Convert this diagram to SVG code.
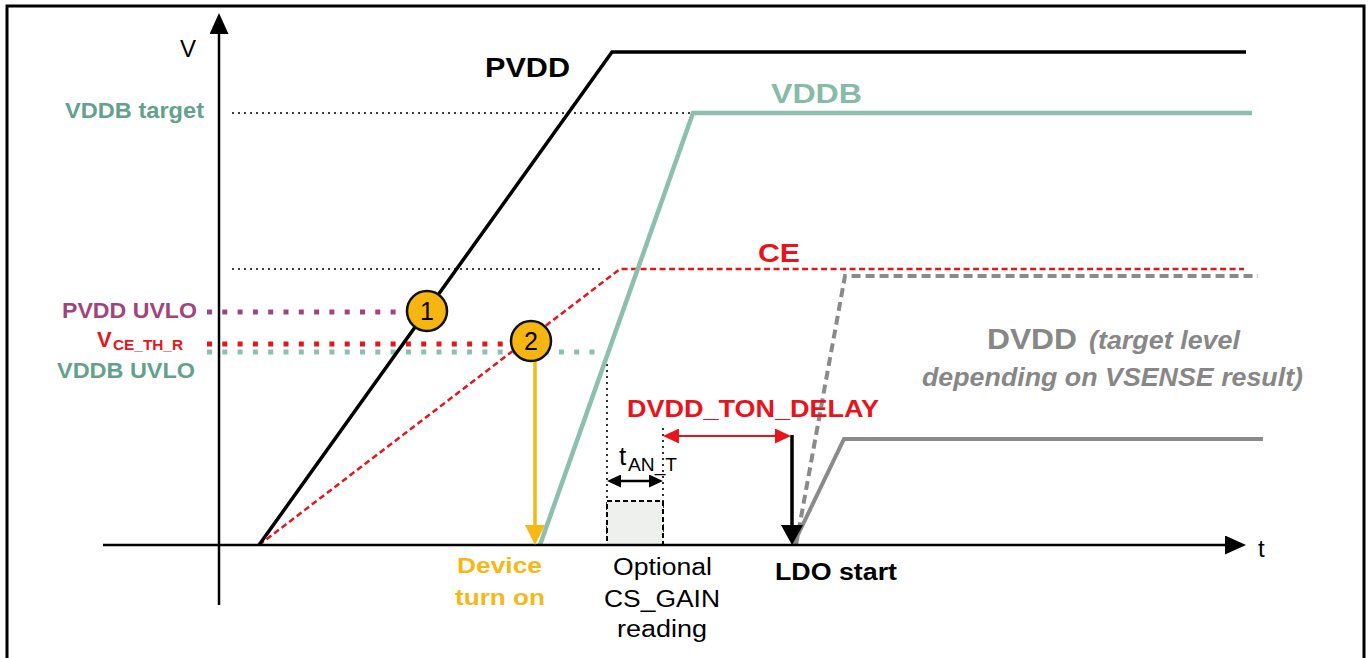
<svg xmlns="http://www.w3.org/2000/svg" width="1370" height="658" viewBox="0 0 1370 658">
<style>
text{font-family:"Liberation Sans",Arial,sans-serif;}
.b{font-weight:bold;}
.bi{font-weight:bold;font-style:italic;}
.blk{fill:#000;}
.red{fill:#E8141B;}
.teal{fill:#64A18D;}
.gray{fill:#878787;}
.gold{fill:#F5B815;}
.dotK{stroke:#000;stroke-width:1.6;stroke-dasharray:2 4;fill:none;}
.sq{stroke-width:5;stroke-dasharray:5 10.3;fill:none;}
</style>
<defs>
<marker id="ahAxis" markerUnits="userSpaceOnUse" markerWidth="21" markerHeight="19" viewBox="0 0 21 19" refX="0" refY="9.5" orient="auto"><path d="M0,0 L21,9.5 L0,19 z" fill="#000"/></marker>
<marker id="ahRed" markerUnits="userSpaceOnUse" markerWidth="16" markerHeight="15" viewBox="0 0 16 15" refX="0" refY="7.5" orient="auto-start-reverse"><path d="M0,0 L16,7.5 L0,15 z" fill="#E8141B"/></marker>
<marker id="ahSmall" markerUnits="userSpaceOnUse" markerWidth="14" markerHeight="13" viewBox="0 0 14 13" refX="0" refY="6.5" orient="auto-start-reverse"><path d="M0,0 L14,6.5 L0,13 z" fill="#000"/></marker>
<marker id="ahBig" markerUnits="userSpaceOnUse" markerWidth="20" markerHeight="22" viewBox="0 0 20 22" refX="0" refY="11" orient="auto"><path d="M0,0 L20,11 L0,22 z" fill="#000"/></marker>
<marker id="ahGold" markerUnits="userSpaceOnUse" markerWidth="20" markerHeight="20" viewBox="0 0 20 20" refX="0" refY="10" orient="auto"><path d="M0,0 L20,10 L0,20 z" fill="#F5B815"/></marker>
</defs>
<rect x="0" y="0" width="1370" height="658" fill="#fff"/>
<rect x="7" y="6" width="1357" height="700" fill="none" stroke="#000" stroke-width="3"/>

<g id="guides">
<line class="dotK" x1="232" y1="113" x2="690" y2="113"/>
<line class="dotK" x1="232" y1="269" x2="603" y2="269"/>
<line class="dotK" x1="607" y1="352" x2="607" y2="545"/>
<line class="dotK" x1="663" y1="428" x2="663" y2="545"/>
<line class="sq" stroke="#A0447E" x1="207" y1="312" x2="410" y2="312"/>
<line class="sq" stroke="#E8141B" x1="207" y1="344" x2="512" y2="344"/>
<line class="sq" stroke="#8CBFAE" x1="207" y1="352" x2="604" y2="352"/>
</g>

<g id="box-cs-gain">
<rect x="607" y="501" width="56" height="44" fill="#EEF0EE" stroke="#000" stroke-width="2" stroke-dasharray="5 3"/>
</g>

<g id="curve-ce">
<polyline points="259,545 620,269 1244,269" fill="none" stroke="#E8141B" stroke-width="2.5" stroke-dasharray="6 3.5"/>
</g>
<g id="curve-pvdd">
<polyline points="259,545 612,52 1246,52" fill="none" stroke="#000" stroke-width="3.5"/>
</g>
<g id="curve-vddb">
<polyline points="540,545 693,113 1252,113" fill="none" stroke="#8CBFAE" stroke-width="4.5"/>
</g>
<g id="curve-dvdd-target">
<polyline points="796,545 845,276 1258,276" fill="none" stroke="#8A8A8A" stroke-width="4" stroke-dasharray="9 5"/>
</g>
<g id="curve-dvdd">
<polyline points="793,545 844,439 1263,439" fill="none" stroke="#8A8A8A" stroke-width="4"/>
</g>

<g id="axes">
<line x1="219" y1="605" x2="219" y2="34" stroke="#000" stroke-width="2.5" marker-end="url(#ahAxis)"/>
<line x1="103" y1="545" x2="1225" y2="545" stroke="#000" stroke-width="2.5" marker-end="url(#ahAxis)"/>
<text x="180" y="57" font-size="24" class="blk">V</text>
<text x="1258" y="557" font-size="24" class="blk">t</text>
</g>

<g id="connectors">
<line x1="679" y1="436" x2="775" y2="436" stroke="#E8141B" stroke-width="2" marker-start="url(#ahRed)" marker-end="url(#ahRed)"/>
<line x1="621" y1="481" x2="649" y2="481" stroke="#000" stroke-width="2.5" marker-start="url(#ahSmall)" marker-end="url(#ahSmall)"/>
<line x1="792" y1="435" x2="792" y2="525" stroke="#000" stroke-width="3.5" marker-end="url(#ahBig)"/>
<line x1="535" y1="360" x2="535" y2="525" stroke="#F5B815" stroke-width="3.5" marker-end="url(#ahGold)"/>
</g>

<g id="marker-1">
<circle cx="427" cy="311" r="20" fill="#F7B512" stroke="#111" stroke-width="2.5"/>
<text x="427" y="320" font-size="25" text-anchor="middle" class="blk">1</text>
</g>
<g id="marker-2">
<circle cx="531" cy="341" r="20" fill="#F7B512" stroke="#111" stroke-width="2.5"/>
<text x="531" y="350" font-size="25" text-anchor="middle" class="blk">2</text>
</g>

<g id="labels">
<text x="485" y="77" font-size="27" class="b blk" textLength="85" lengthAdjust="spacingAndGlyphs">PVDD</text>
<text x="771" y="103" font-size="28" class="b" fill="#86BBA9" textLength="91" lengthAdjust="spacingAndGlyphs">VDDB</text>
<text x="758" y="262" font-size="26.5" class="b red" textLength="42" lengthAdjust="spacingAndGlyphs">CE</text>
<text x="65" y="118" font-size="22" class="b teal" textLength="139" lengthAdjust="spacingAndGlyphs">VDDB target</text>
<text x="62" y="318" font-size="22" class="b" fill="#A0447E" textLength="135" lengthAdjust="spacingAndGlyphs">PVDD UVLO</text>
<text x="97" y="347" font-size="22" class="b red">V</text>
<text x="113" y="350" font-size="14" class="b red" textLength="70" lengthAdjust="spacingAndGlyphs">CE_TH_R</text>
<text x="57" y="378" font-size="22" class="b teal" textLength="138" lengthAdjust="spacingAndGlyphs">VDDB UVLO</text>
<text x="627" y="417" font-size="24" class="b red" textLength="252" lengthAdjust="spacingAndGlyphs">DVDD_TON_DELAY</text>
<text x="619" y="465" font-size="26" class="blk">t</text>
<text x="628" y="471" font-size="18" class="blk" textLength="49" lengthAdjust="spacingAndGlyphs">AN_T</text>
<text x="457" y="573" font-size="22" class="b gold" textLength="85" lengthAdjust="spacingAndGlyphs">Device</text>
<text x="455" y="605" font-size="22" class="b gold" textLength="90" lengthAdjust="spacingAndGlyphs">turn on</text>
<text x="613" y="575" font-size="23.5" class="blk" textLength="99" lengthAdjust="spacingAndGlyphs">Optional</text>
<text x="604" y="607" font-size="23.5" class="blk" textLength="116" lengthAdjust="spacingAndGlyphs">CS_GAIN</text>
<text x="617" y="637" font-size="23.5" class="blk" textLength="90" lengthAdjust="spacingAndGlyphs">reading</text>
<text x="775" y="580" font-size="23.5" class="b blk" textLength="122" lengthAdjust="spacingAndGlyphs">LDO start</text>
<text x="987" y="349" font-size="29" class="b gray" textLength="90" lengthAdjust="spacingAndGlyphs">DVDD</text>
<text x="1089" y="349" font-size="26.5" class="bi gray" textLength="151" lengthAdjust="spacingAndGlyphs">(target level</text>
<text x="922" y="386" font-size="26.5" class="bi gray" textLength="381" lengthAdjust="spacingAndGlyphs">depending on VSENSE result)</text>
</g>
</svg>
